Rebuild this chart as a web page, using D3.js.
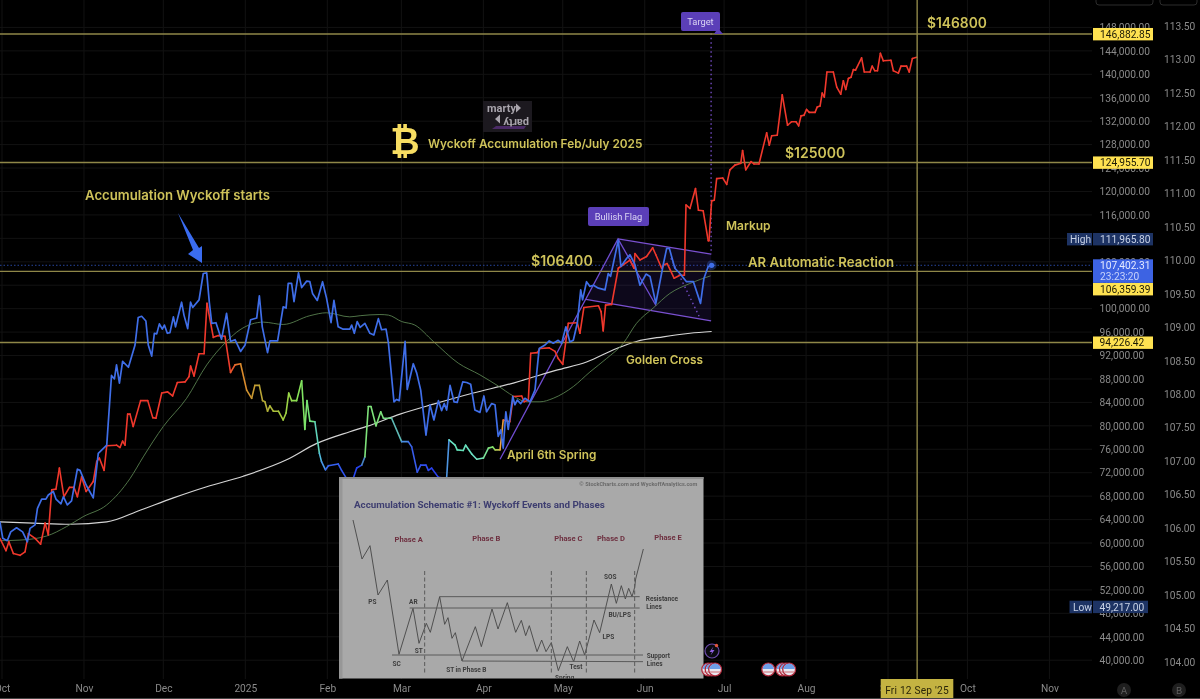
<!DOCTYPE html>
<html><head><meta charset="utf-8">
<script src="https://cdnjs.cloudflare.com/ajax/libs/d3/7.8.5/d3.min.js"></script>
<style>
html,body{margin:0;padding:0;background:#000;overflow:hidden}
svg{display:block;font-family:Inter,"Open Sans",sans-serif;filter:blur(0.3px)}
</style></head><body><svg id="c" width="1200" height="699"></svg>
<script>
// ---- data: days are counted from 1 Oct 2024, prices are in thousands of USD
const blueDays=[-0.8,0.3,2,3.3,5.5,7.8,9.6,10.6,12.5,13.4,15,16.6,17.5,19.4,20.4,22.3,23.2,24.7,26.3,28.5,29.5,31.8,34.5,36.4,39.6,41.4,42.5,43.3,44.4,45.6,47.8,50.3,51.5,52.8,54.4,55.3,56.6,57.6,58.5,59.5,60.6,61.4,62.5,63.5,64.8,65.6,67.9,68.8,70.2,71.3,72.1,74.5,76.1,77.4,78.4,79.3,80.9,82.2,83,84.9,86.4,88.1,90.2,91.9,94,96.3,97.3,98.4,100.4,101.3,104.2,106.3,107.4,108.2,109.5,110.4,112.1,113.3,115.2,116.4,117.4,119.2,121.2,122.7,124.4,125.5,127.1,129,131.5,132.2,133.2,134.3,135.4,137.2,139.1,140.6,142.3,143.5,145.2,146.1,148.2,149.2,150.2,152.4,153.2,155.5,156.8,158.3,160.3,161.8,163.3,165,166.2,167.2,168.1,169.4,170.9,172.1,174.2,175.7,177.2,178.8,180.7,182.2,183.2,185.1,186.4,187.6,188.6,189.5,190.5,191.4,193.1,193.9,194.8,196.1,197.7,199.6,201.5,203.1,205.3,206.9,208.4,210.3,211.6,213.2,214.7,216,217.5,218.8,219.5,221,222.3,223.6,225.5,228,229.2,230.1,233,234,236.2,237.4,239.3,241.2,243.5,245,247.2,250,251.3,252.3,254.4,256.3,258.8,261.4,264.1,265.4,267,268.3];
const blueValues=[63.65,60.8,60.4,61.9,62.6,61.9,60.2,62.5,63.1,65.9,67.5,67.5,68.2,68.8,67.5,66.7,67.9,66.5,67.2,72.6,72.4,69.9,67.7,75.3,76.7,88.6,88,90.4,87.3,91,90,93.8,98.5,98.7,97.9,93.8,91.9,95.8,95.7,97.4,96.5,97.2,95.8,95.9,98.6,96.9,101.1,98.9,96.6,101.1,100.2,101.5,106,106.1,101,97.5,97.6,95.8,94.8,99.2,94.4,94.7,92.7,93.8,98.1,98.4,102.2,96.9,92.5,94.5,94.5,100.3,100.1,104.3,104.3,101.2,106.1,103.6,104.7,104.6,102.6,101.4,104.6,101.8,97.6,101.4,96.9,96.5,96.5,97.2,95.8,97.8,96.8,97.5,95.8,95.5,98.3,96.4,96.5,94.1,84.1,84.5,84.3,94.4,86.2,90.6,89,86.1,78.4,83.6,81,84.3,82.6,83.8,82.7,86.9,84.1,84,87.5,87.4,87.1,82.7,82.3,85.1,82.4,83.8,83.6,78.2,79.3,76.2,82.4,79.4,85,83.6,84.4,83.8,84.7,84.1,86.1,93.2,93.8,94.5,94.1,94.6,94.1,96.9,94.3,94.6,97.5,103.2,101.5,104.6,103.8,104,103.5,103.2,106,105.5,111.7,107.2,108.6,109.2,107.5,104,105.9,105.5,100.9,107.5,110.3,110.3,106.9,106,104.6,104.6,100.9,105.2,107.2,107.3];

const heatDays=[-0.8,1.5,2.6,4.3,6.8,8.7,10,12.5,14.6,16.3,17.5,18.8,20.4,21.7,23.4,25.5,27.2,28.5,30.1,31.8,34.5,35.8,36.8,38.6,39.6,43.3,44.6,45.6,46.5,47.5,48.4,49.6,52.4,55.1,57,58.2,60.4,62.6,64.5,66.3,69.2,70.7,71.3,72.6,74.5,76.4,77.5,79.9,81.8,84.3,86.4,88.1,90.2,92.5,94.4,95.6,97.3,98.5,99.4,100.4,101.3,102.6,104.5,106.3,107.4,108.4,109.5,111.4,113.3,114.5,115.3,116.4,118.3,120,120.8,122.3,123.4,127.1,128.4,130.3,131.6,132.8,134.1,136,137.2,138.5,139.5,141.4,143.2,144.2,147.3,151.1,153.6,154.9,157,158.3,160.3,161.2,162.4,165,168.1,169,171.3,172.1,174.4,175.3,177.6,179.5,182,183.9,185.5,186.4,188.3,189.5,192,193.3,196.5,197.4,199,199.9,202.4,203.4,206.9,209.1,210.3,212,214.1,217.5,218.5,220,225.5,226.5,227.3,228.2,230.5,233,237.4,238.9,239.3,241.2,243.7,246,247.2,249.4,250.3,251.5,254.1,256.3,258,258.6,260.1,262.2,263.3,265.1,267,267.3,268.3,269.3,270.2,272.5,274,275.2,277.1,279.3,280,281.2,283.2,284.3,286.2,289.1,290.1,291,293.1,295,297,298.5,300.2,301.2,302.1,303.2,304.2,305.2,307.4,308.2,309.3,310.1,310.9,311.9,314.3,315.6,317.1,318.1,319,320,321,321.9,322.7,325,326,328.2,329,330,331,332.1,333.2,336.1,337,338.9,339.9,342,343,344.2,345.8];
const heatValues=[60.8,58.7,60.2,58.2,57.9,58.5,61.6,60.8,59.8,63.4,61.4,69.1,69.2,72.8,67.9,69.5,69.5,67.9,71.3,68.8,70.5,73.9,74.5,72.4,76.6,76.7,76.3,77.4,76.7,82,82,79.9,84.3,84.3,81.4,81.3,85.6,85.8,85.1,87.4,87.5,88.4,90.2,88.5,92.3,92.3,100.9,95.1,95.4,95.3,89.1,90.4,90.6,86.1,84.7,86.9,86.9,84.3,84.1,82.5,83.4,82.5,82.5,81,82.2,85.6,84.3,84.3,87.7,79.4,84.3,80.8,80.7,75.3,73.9,72.5,73.2,73.5,72.4,71,71,71,72.8,73.3,74.7,83.3,83.3,80,82.4,81.3,81.3,77.3,77.3,76.4,72.1,73.3,73.3,72.4,72.8,71.2,71,77.6,76.7,75.9,75.8,76.7,75.2,74.3,74.5,76.2,76.4,75.9,75.9,81,80.7,85,85.1,84.1,84.4,92.4,92.5,93.2,93.3,92.7,91.5,90.5,97.5,97.6,95.8,100.2,100.5,99.5,96.2,100.6,100.7,106.9,108.3,106.9,109.4,108.3,108.9,110.4,109.2,106.9,107.5,107.7,105.2,105.7,105.7,117.7,117.1,120.5,116.8,116.7,111.6,111.6,118.4,118.5,122.2,122.3,121.2,123.7,124.5,124.8,127,123.7,125.1,124.7,124.7,130,127.9,129.5,129.6,136.5,131.3,131.9,131.9,131.2,132.9,133,134,133.5,133.5,134.4,134.6,136.8,136.1,140.4,140.4,137.8,136.6,138.9,137.4,139.3,139.5,140.8,140.7,142.8,140.4,140.4,141.4,140.6,140.6,143.6,142.3,142.4,140.6,140.2,141.4,141.4,140.4,142.7,142.9];
const heatStopDays=[0,85,91,98,106,113,118,120,123,136,137.5,143,147,151,155,168,169,172,180,186,189,192,400];
const heatStopColors=["#f0382c","#f0382c","#dc8a2c","#b8a436","#a4cc3e","#84e45a","#6ee28c","#56c8dc","#3a68f0","#2440f0","#7ee27a","#7ee27a","#70d488","#50a4dc","#3a60ea","#2030f4","#72e8d2","#60e0b4","#70e0c8","#84e062","#f0a040","#f0382c","#f0382c"];

const ma50Days=[-0.8,6.8,16.9,24.4,30.7,39.6,48.4,53.4,61,69.8,77.4,84.9,90,98.8,106.3,116.4,122.7,131.5,135.4,142.9,146.1,151.1,156.1,163.1,172.5,180.7,187.6,193.3,198.4,203.4,208.4,216,222.3,228.6,234.9,239.9,246.2,252.5,260.1,267.9];
const ma50Values=[60.4,60.5,61.2,62.8,64.5,66.5,71,74.7,79.9,84.7,90.4,94.4,96.4,97.7,97.3,98.8,99.3,98.6,98.8,99,98.9,97.8,97.2,94.4,90.7,88.7,86.8,85.1,84.1,84.1,84.7,86.7,89.2,91.5,94.1,97.5,100.1,102.6,104.3,105.6];
const ma200Days=[-0.8,11.8,25.7,39.6,52.2,64.8,77.4,91.2,107.6,119,131.5,137.9,150.5,163.1,178.2,193.3,197.1,209.7,221,232.4,239.9,250,260.1,268.3];
const ma200Values=[63.6,63.4,63.2,63.6,65.6,67.7,69.6,71.4,74.2,77,79,79.9,82,83.7,85.6,87.3,87.8,89.5,90.9,93.2,94.4,95.2,95.8,96.1];

const levelValues=[146.88285,124.9557,106.35939,94.22642];
const levelLabels=["146,882.85","124,955.70","106,359.39","94,226.42"];
const priceTicks=d3.range(40,149,4);
const indexTicks=d3.range(104,113.6,0.5);
const monthDates=[[2024,9],[2024,10],[2024,11],[2025,0],[2025,1],[2025,2],[2025,3],[2025,4],[2025,5],[2025,6],[2025,7],[2025,8],[2025,9],[2025,10]];
const monthLabels=["Oct","Nov","Dec","2025","Feb","Mar","Apr","May","Jun","Jul","Aug","Sep","Oct","Nov"];
const currentPrice=107.40231, highPrice=111.9658, lowPrice=49.217, crossDay=346;
const flagDays=[232.9,268.1,268.1,220.8], flagValues=[111.9,109.3,97.9,101.6];
const flagPoleDays=[188.3,232.9,247.3], flagPoleValues=[74.3,111.9,100.5];
const flagDotDays=[252.9,263.9], flagDotValues=[108.6,98.4];
const targetDays=[268.1,268.1], targetValues=[147,109.3];
const usEventDays=[267,268.3,269.6,289.7,295,296.4,297.6];

// schematic inset, in the inset's own units
const schemPathX=[45,72,96,120,148,183,225,243,265,277,305,320,330,342,352,372,412,430,462,480,508,533,550,563,574,597,611,624,640,661,688,707,725,740,768,785,820,835,850,862,872,882,890,893,916];
const schemPathY=[135,252,212,360,315,538,400,505,445,472,365,448,428,490,473,558,455,515,402,462,383,472,436,482,452,530,495,530,503,587,515,560,498,540,435,473,327,385,332,372,340,365,337,312,222];
const schemLevels=[[305,905,365,365],[215,905,399,399],[162,915,540,540],[372,915,558,560]];
const schemDashX=[260,640,745,890];
const schemLabels=[["PS",103,380],["AR",226,378],["ST",242,527],["SC",176,565],["ST in Phase B",385,582],["Spring",680,606],["Test",714,574],["LPS",811,484],["BU/LPS",845,418],["SOS",817,305],["Resistance",972,369],["Lines",948,393],["Support",961,540],["Lines",950,564]];
const schemPhases=[["Phase A",212,192],["Phase B",445,190],["Phase C",691,189],["Phase D",819,188],["Phase E",990,186]];

// ---- scales
const dayMs=864e5, t0=Date.UTC(2024,9,1);
const toDate=d=>new Date(t0+d*dayMs);
const x=d3.scaleUtc().domain([toDate(0),toDate(396)]).range([2,1049.4]);
const y=d3.scaleLinear().domain([40,150]).range([660.2,15.71]);
const yB=d3.scaleLinear().domain([104,113.5]).range([662,26]);
const heat=d3.scaleLinear().domain(heatStopDays).range(heatStopColors);
const svg=d3.select("#c");
const W=1200,H=699,plotR=1092,plotB=679;
const NUM="Roboto,Inter,sans-serif", NARROW="'Liberation Sans Narrow',Roboto,sans-serif";
svg.append("rect").attr("width",W).attr("height",H).attr("fill","#000");
const defs=svg.append("defs");
defs.append("clipPath").attr("id","plot").append("rect").attr("width",plotR).attr("height",plotB);

// grid
const grid=svg.append("g").attr("stroke","#121212").attr("stroke-width",1);
grid.selectAll("line.h").data(priceTicks).join("line").attr("x1",0).attr("x2",plotR).attr("y1",d=>y(d)).attr("y2",d=>y(d));
grid.selectAll("line.v").data(monthDates).join("line").attr("x1",d=>x(Date.UTC(d[0],d[1],1))).attr("x2",d=>x(Date.UTC(d[0],d[1],1))).attr("y1",0).attr("y2",plotB);

const plot=svg.append("g").attr("clip-path","url(#plot)");
const line=d3.line().x(d=>x(toDate(d[0]))).y(d=>y(d[1]));
const smooth=d3.line().x(d=>x(toDate(d[0]))).y(d=>y(d[1])).curve(d3.curveMonotoneX);
const zip=(a,b)=>a.map((v,i)=>[v,b[i]]);

// current price dotted
plot.append("line").attr("x1",0).attr("x2",plotR).attr("y1",y(currentPrice)).attr("y2",y(currentPrice)).attr("stroke","#27459c").attr("stroke-width",1).attr("stroke-dasharray","1.5 2");

// flag
plot.append("path").attr("d",line(zip(flagDays,flagValues))+"Z").attr("fill","#5a3cc0").attr("fill-opacity",0.14).attr("stroke","none");
plot.append("path").attr("d",line(zip(flagDays.slice(0,2),flagValues.slice(0,2)))).attr("stroke","#7a50d0").attr("stroke-width",1.3).attr("fill","none");
plot.append("path").attr("d",line(zip(flagDays.slice(2),flagValues.slice(2)))).attr("stroke","#7a50d0").attr("stroke-width",1.3).attr("fill","none");
plot.append("path").attr("d",line(zip(flagPoleDays,flagPoleValues))).attr("stroke","#6f4ccf").attr("stroke-width",1.3).attr("fill","none");
plot.append("path").attr("d",line(zip(flagDotDays,flagDotValues))).attr("stroke","#7a50d0").attr("stroke-width",1.3).attr("stroke-dasharray","1.5 3").attr("fill","none");
plot.append("path").attr("d",line(zip(targetDays,targetValues))).attr("stroke","#7a50d0").attr("stroke-width",1.3).attr("stroke-dasharray","1.5 3").attr("fill","none");

// moving averages
plot.append("path").attr("d",smooth(zip(ma200Days,ma200Values))).attr("fill","none").attr("stroke","#d4d4d4").attr("stroke-width",1.2);
plot.append("path").attr("d",smooth(zip(ma50Days,ma50Values))).attr("fill","none").attr("stroke","#587f4f").attr("stroke-width",0.9);

// levels
levelValues.forEach(v=>plot.append("line").attr("x1",0).attr("x2",plotR).attr("y1",y(v)).attr("y2",y(v)).attr("stroke","#8f8748").attr("stroke-width",1.4));
svg.append("line").attr("x1",x(toDate(crossDay))).attr("x2",x(toDate(crossDay))).attr("y1",0).attr("y2",plotB).attr("stroke","#8f8748").attr("stroke-width",1.4);

// heat line (segment colour follows time)
const heatPts=zip(heatDays,heatValues);
plot.selectAll("path.heat").data(heatPts.slice(1).map((p,i)=>[heatPts[i],p])).join("path").attr("class","heat")
  .attr("d",d=>line(d)).attr("fill","none").attr("stroke",d=>heat((d[0][0]+d[1][0])/2)).attr("stroke-width",1.6).attr("stroke-linecap","round");
// blue line
plot.append("path").attr("d",line(zip(blueDays,blueValues))).attr("fill","none").attr("stroke","#3f6ee8").attr("stroke-width",1.7).attr("stroke-linejoin","round");
// current dot
const last=blueDays.length-1;
plot.append("circle").attr("cx",x(toDate(blueDays[last]))).attr("cy",y(currentPrice)).attr("r",5).attr("fill","#3f6ee8").attr("fill-opacity",.3);
plot.append("circle").attr("cx",x(toDate(blueDays[last]))).attr("cy",y(currentPrice)).attr("r",2.6).attr("fill","#3f6ee8");

// arrow
svg.append("polygon").attr("points","178,213 199,248 202,246 202,263 188,254 193,250").attr("fill","#3a6cf0");

// inset
const sx=d3.scaleLinear().domain([0,1110]).range([338,708]);
const sy=d3.scaleLinear().domain([0,672]).range([475,699]);
const inset=svg.append("g");
inset.append("rect").attr("x",339).attr("y",477).attr("width",364.5).attr("height",201.5).attr("fill","#a9a9a9");
inset.append("rect").attr("x",339).attr("y",477).attr("width",3.5).attr("height",201.5).attr("fill","#979797");
inset.append("rect").attr("x",339).attr("y",477).attr("width",364.5).attr("height",2).attr("fill","#8e8e8e");
const sl=d3.line().x(d=>sx(d[0])).y(d=>sy(d[1]));
inset.append("path").attr("d",sl(zip(schemPathX,schemPathY))).attr("fill","none").attr("stroke","#454545").attr("stroke-width",0.9);
schemLevels.forEach(l=>inset.append("line").attr("x1",sx(l[0])).attr("x2",sx(l[1])).attr("y1",sy(l[2])).attr("y2",sy(l[3])).attr("stroke","#5a5a5a").attr("stroke-width",1));
schemDashX.forEach(d=>inset.append("line").attr("x1",sx(d)).attr("x2",sx(d)).attr("y1",sy(288)).attr("y2",sy(595)).attr("stroke","#5a5a5a").attr("stroke-width",1).attr("stroke-dasharray","4 2.5"));
inset.append("text").attr("x",sx(48)).attr("y",sy(100)).attr("font-size",9.8).attr("font-family",NUM).attr("font-weight",700).attr("fill","#3e3e70").text("Accumulation Schematic #1: Wyckoff Events and Phases");
inset.append("text").attr("x",sx(1078)).attr("y",sy(32)).attr("text-anchor","end").attr("font-size",5.6).attr("font-family",NUM).attr("font-weight",700).attr("fill","#6a6a6a").text("© StockCharts.com and WyckoffAnalytics.com");
inset.selectAll("text.ph").data(schemPhases).join("text").attr("class","ph").attr("x",d=>sx(d[1])).attr("y",d=>sy(d[2])+3).attr("text-anchor","middle").attr("font-size",7.6).attr("font-family",NUM).attr("font-weight",700).attr("fill","#6e3040").text(d=>d[0]);
inset.selectAll("text.sl").data(schemLabels).join("text").attr("class","sl").attr("x",d=>sx(d[1])).attr("y",d=>sy(d[2])+2.5).attr("text-anchor","middle").attr("font-size",6.5).attr("font-weight",700).attr("font-family",NARROW).attr("fill","#3c3c3c").text(d=>d[0]);

// events
const ev=svg.append("g");
usEventDays.forEach(d=>{
  const cx=x(toDate(d)),cy=669.5;
  ev.append("circle").attr("cx",cx).attr("cy",cy).attr("r",6.4).attr("fill","#e8e8f0").attr("stroke","#b02a3c").attr("stroke-width",1.3);
  ev.append("path").attr("d",`M${cx-5.5},${cy-0.5}A5.5,5.5 0 0 1 ${cx+5.5},${cy-0.5}Z`).attr("fill","#6f9fe8");
  ev.append("line").attr("x1",cx-5).attr("x2",cx+5).attr("y1",cy+2.5).attr("y2",cy+2.5).attr("stroke","#d06a70").attr("stroke-width",1);
});
ev.append("circle").attr("cx",712).attr("cy",651).attr("r",7).attr("fill","#0a0a10").attr("stroke","#6a4aa8").attr("stroke-width",1.2);
ev.append("path").attr("d","M713.5,646.5L709.5,652H712L710.5,655.5L714.5,650H712Z").attr("fill","#8f5fe0");
ev.append("circle").attr("cx",716.5).attr("cy",645.5).attr("r",1.7).attr("fill","#e0553c");

// annotation text
const gold="#cfc35a";
const ann=svg.append("g").attr("fill",gold).attr("font-weight",600);
const T=(s,px,py,fs)=>ann.append("text").attr("x",px).attr("y",py).attr("font-size",fs).text(s);
T("$146800",927,28,13.8);
T("Wyckoff Accumulation Feb/July 2025",428,148,11.8);
T("Accumulation Wyckoff starts",85,200,13.2);
T("$125000",785,158,14);
T("Markup",726,230,12);
T("$106400",531,266,14.2);
T("AR Automatic Reaction",748,267,13.2);
T("Golden Cross",626,364,11.8);
T("April 6th Spring",507,459,11.8);

// bitcoin glyph
svg.append("text").attr("x",405).attr("y",154).attr("text-anchor","middle").attr("font-family","'DejaVu Sans',sans-serif").attr("font-weight",700).attr("font-size",36).attr("fill","#f7dd62").text("₿");

// logo
const logo=svg.append("g");
logo.append("rect").attr("x",483).attr("y",101).attr("width",49).attr("height",31).attr("fill","#1c191f");
logo.append("polygon").attr("points","492,129 524,129 526,126 496,126").attr("fill","#4a2a66");
logo.append("text").attr("x",487).attr("y",112).attr("font-family",NARROW).attr("font-weight",700).attr("font-size",11).attr("fill","#a8a4ac").text("marty");
logo.append("polygon").attr("points","516,103.5 521,108 516,112.5").attr("fill","#a8a4ac");
logo.append("text").attr("transform","translate(529,119) rotate(180)").attr("font-family",NARROW).attr("font-weight",700).attr("font-size",11).attr("fill","#a8a4ac").text("party");
logo.append("polygon").attr("points","500,114.5 495,119 500,123.5").attr("fill","#a8a4ac");

// tags
const tag=(s,x0,y0,w,h)=>{svg.append("rect").attr("x",x0).attr("y",y0).attr("width",w).attr("height",h).attr("rx",2).attr("fill","#5b3fb8");
 svg.append("text").attr("x",x0+w/2).attr("y",y0+h/2+3.3).attr("text-anchor","middle").attr("font-size",9.3).attr("font-family",NUM).attr("fill","#dcd6f4").text(s);};
svg.append("path").attr("d","M718,28L723,34H714Z").attr("fill","#5b3fb8");
tag("Target",681,12,39,19);
tag("Bullish Flag",588,207,61,19);

// axes
svg.append("rect").attr("x",plotR).attr("y",0).attr("width",W-plotR).attr("height",H).attr("fill","#000");
const axA=d3.axisRight(y).tickValues(priceTicks).tickSize(0).tickPadding(0).tickFormat(d=>d3.format(",.2f")(d*1000));
const gA=svg.append("g").attr("transform","translate(1099.5,0)").call(axA);
const axB=d3.axisRight(yB).tickValues(indexTicks).tickSize(0).tickPadding(0).tickFormat(d3.format(".2f"));
const gB=svg.append("g").attr("transform","translate(1164,0)").call(axB);
svg.append("rect").attr("x",0).attr("y",plotB).attr("width",W).attr("height",H-plotB).attr("fill","#000");
const axX=d3.axisBottom(x).tickValues(monthDates.map(d=>new Date(Date.UTC(d[0],d[1],1)))).tickSize(0).tickPadding(0).tickFormat((d,i)=>monthLabels[i]);
const gX=svg.append("g").attr("transform","translate(0,685)").call(axX);
[gA,gB,gX].forEach(g=>{g.select(".domain").remove();g.selectAll("text").attr("fill","#8a8a8a").attr("font-size",10.2).attr("font-family",NUM);});

// value flags
const box=(x0,y0,w,h,fill)=>svg.append("rect").attr("x",x0).attr("y",y0).attr("width",w).attr("height",h).attr("fill",fill);
const boxText=(s,px,py,fill)=>svg.append("text").attr("x",px).attr("y",py).attr("font-size",10.2).attr("font-family",NUM).attr("fill",fill).text(s);
const levelBoxCentre=[y(levelValues[0]),y(levelValues[1]),289,y(levelValues[3])];
levelValues.forEach((v,i)=>{
  const cy=levelBoxCentre[i];
  box(1093,cy-6,60,12.4,"#ffe251");
  boxText(levelLabels[i],i==3?1099.5:1100,cy+3.9,"#1c1a05");
});
box(1093,259.3,60,23.6,"#3d63e3");
boxText(d3.format(",.2f")(currentPrice*1000),1100,269,"#e4eaff");
boxText("23:23:20",1100,280,"#c6d2fa");
box(1067,233,25,12.4,"#1d3364");box(1093,233,60,12.4,"#1d3364");
boxText("High",1070,243,"#c8d2e6");boxText(d3.format(",.2f")(highPrice*1000),1100,243,"#c8d2e6");
box(1069.5,600.7,22.5,12.4,"#1d3364");box(1093,600.7,55,12.4,"#1d3364");
boxText("Low",1073,610.8,"#c8d2e6");boxText(d3.format(",.2f")(lowPrice*1000),1099.5,610.8,"#c8d2e6");

// crosshair date
box(880.7,679,72.6,20,"#c4b342");
svg.append("text").attr("x",917).attr("y",693.5).attr("text-anchor","middle").attr("font-size",10.2).attr("font-family",NUM).attr("letter-spacing",0.2).attr("fill","#2a2508").text("Fri 12 Sep '25");

// scale buttons
[["A",1124],["B",1179]].forEach(d=>{
  svg.append("circle").attr("cx",d[1]).attr("cy",690).attr("r",7).attr("fill","#1f1f1f");
  svg.append("text").attr("x",d[1]).attr("y",693.5).attr("text-anchor","middle").attr("font-size",9.5).attr("fill","#5f5f5f").text(d[0]);
});
svg.append("rect").attr("x",1096).attr("y",-8).attr("width",57).attr("height",13).attr("rx",3).attr("fill","none").attr("stroke","#2c2c2c");
svg.append("rect").attr("x",1160).attr("y",-8).attr("width",37).attr("height",13).attr("rx",3).attr("fill","none").attr("stroke","#2c2c2c");
svg.append("line").attr("x1",0).attr("x2",W).attr("y1",698.5).attr("y2",698.5).attr("stroke","#444");
</script></body></html>
